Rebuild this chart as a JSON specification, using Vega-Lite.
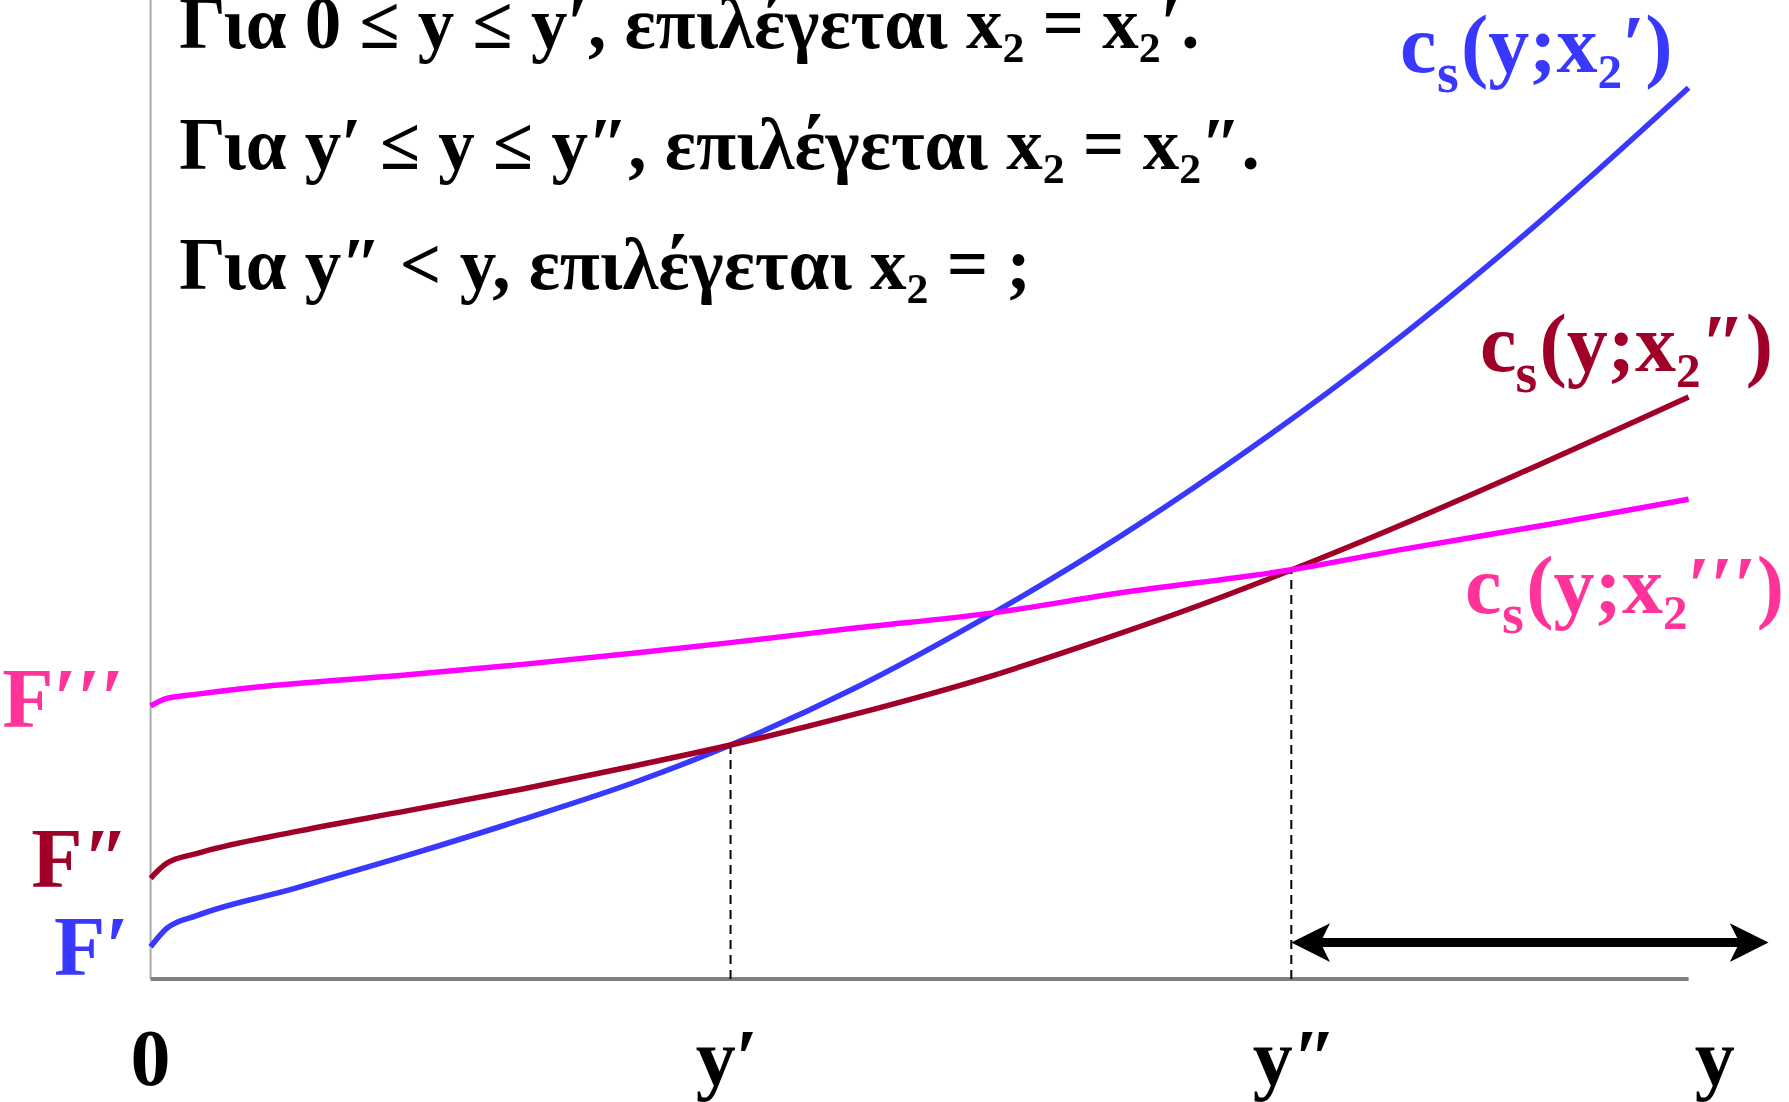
{
  "$schema": "https://vega.github.io/schema/vega-lite/v6.json",
  "width": 1789,
  "height": 1102,
  "autosize": {"type": "none"},
  "padding": 0,
  "background": "white",
  "config": {"view": {"stroke": null}},
  "datasets": {
    "curves": [
      {"series": "x2p", "y": 0, "c": 0.33},
      {"series": "x2p", "y": 0.105, "c": 0.518},
      {"series": "x2p", "y": 0.304, "c": 0.65},
      {"series": "x2p", "y": 0.926, "c": 0.92},
      {"series": "x2p", "y": 1.674, "c": 1.265},
      {"series": "x2p", "y": 2.419, "c": 1.63},
      {"series": "x2p", "y": 3.166, "c": 2.02},
      {"series": "x2p", "y": 3.771, "c": 2.39},
      {"series": "x2p", "y": 4.567, "c": 2.963},
      {"series": "x2p", "y": 5.476, "c": 3.736},
      {"series": "x2p", "y": 6.309, "c": 4.527},
      {"series": "x2p", "y": 7.0, "c": 5.253},
      {"series": "x2p", "y": 8.0, "c": 6.403},
      {"series": "x2p", "y": 9.0, "c": 7.693},
      {"series": "x2p", "y": 10.0, "c": 9.103},
      {"series": "x2pp", "y": 0, "c": 1.029},
      {"series": "x2pp", "y": 0.105, "c": 1.182},
      {"series": "x2pp", "y": 0.304, "c": 1.284},
      {"series": "x2pp", "y": 0.926, "c": 1.50},
      {"series": "x2pp", "y": 1.674, "c": 1.72},
      {"series": "x2pp", "y": 2.419, "c": 1.941},
      {"series": "x2pp", "y": 3.166, "c": 2.184},
      {"series": "x2pp", "y": 3.771, "c": 2.39},
      {"series": "x2pp", "y": 4.567, "c": 2.70},
      {"series": "x2pp", "y": 5.476, "c": 3.10},
      {"series": "x2pp", "y": 6.06, "c": 3.40},
      {"series": "x2pp", "y": 6.807, "c": 3.81},
      {"series": "x2pp", "y": 7.417, "c": 4.178},
      {"series": "x2pp", "y": 8.0, "c": 4.551},
      {"series": "x2pp", "y": 8.882, "c": 5.151},
      {"series": "x2pp", "y": 10.0, "c": 5.945},
      {"series": "x2ppp", "y": 0, "c": 2.789},
      {"series": "x2ppp", "y": 0.105, "c": 2.867},
      {"series": "x2ppp", "y": 0.304, "c": 2.91},
      {"series": "x2ppp", "y": 0.677, "c": 2.98},
      {"series": "x2ppp", "y": 1.674, "c": 3.107},
      {"series": "x2ppp", "y": 2.419, "c": 3.214},
      {"series": "x2ppp", "y": 3.166, "c": 3.332},
      {"series": "x2ppp", "y": 3.771, "c": 3.436},
      {"series": "x2ppp", "y": 4.567, "c": 3.582},
      {"series": "x2ppp", "y": 5.476, "c": 3.74},
      {"series": "x2ppp", "y": 6.309, "c": 3.945},
      {"series": "x2ppp", "y": 7.417, "c": 4.18},
      {"series": "x2ppp", "y": 8.167, "c": 4.396},
      {"series": "x2ppp", "y": 9.099, "c": 4.646},
      {"series": "x2ppp", "y": 10.0, "c": 4.9}
    ],
    "dashes": [
      {"y": 3.771, "c0": 0, "c1": 2.39},
      {"y": 7.417, "c0": 0, "c1": 4.178}
    ],
    "yaxis": [{"y": 0, "c0": 0, "c1": 10.0}],
    "xaxis": [{"y0": 0, "y1": 10.0, "c": 0}],
    "arrowline": [{"y0": 7.5, "y1": 10.44, "c": 0.373}],
    "arrowheads": [
      {"dir": "L", "y": 7.417, "c": 0.373},
      {"dir": "R", "y": 10.52, "c": 0.373}
    ],
    "notes": [
      {"text": "Για 0 ≤ y ≤ y′, επιλέγεται x₂ = x₂′.", "y": 0.186, "c": 9.51},
      {"text": "Για y′ ≤ y ≤ y″, επιλέγεται x₂ = x₂″.", "y": 0.186, "c": 8.27},
      {"text": "Για y″ < y, επιλέγεται x₂ = ;", "y": 0.186, "c": 7.05}
    ],
    "labelparts": [
      {"text": "c", "part": "main", "col": "x2p", "y": 8.123, "c": 9.26},
      {"text": "s", "part": "sub", "col": "x2p", "y": 8.364, "c": 9.06},
      {"text": "(y;x₂′)", "part": "main", "col": "x2p", "y": 8.52, "c": 9.26},
      {"text": "c", "part": "main", "col": "x2pp", "y": 8.644, "c": 6.21},
      {"text": "s", "part": "sub", "col": "x2pp", "y": 8.875, "c": 6.0},
      {"text": "(y;x₂″)", "part": "main", "col": "x2pp", "y": 9.03, "c": 6.21},
      {"text": "c", "part": "main", "col": "lpink", "y": 8.546, "c": 3.74},
      {"text": "s", "part": "sub", "col": "lpink", "y": 8.787, "c": 3.53},
      {"text": "(y;x₂′′′)", "part": "main", "col": "lpink", "y": 8.945, "c": 3.74}
    ],
    "flabels": [
      {"text": "F′", "col": "x2p", "y": -0.14, "c": 0.04},
      {"text": "F″", "col": "x2pp", "y": -0.14, "c": 0.94},
      {"text": "F′′′", "col": "lpink", "y": -0.17, "c": 2.57}
    ],
    "ticks": [
      {"text": "0", "y": 0, "c": -1.083},
      {"text": "y′", "y": 3.748, "c": -1.083},
      {"text": "y″", "y": 7.44, "c": -1.083},
      {"text": "y", "y": 10.17, "c": -1.083}
    ]
  },
  "layer": [
    {
      "data": {"name": "yaxis"},
      "mark": {"type": "rule", "color": "#aaaaaa", "strokeWidth": 2},
      "encoding": {
        "x": {"field": "y", "type": "quantitative", "scale": {"domain": [-0.979, 10.653], "nice": false, "zero": false}, "axis": null},
        "y": {"field": "c0", "type": "quantitative", "scale": {"domain": [-1.256, 10.0], "nice": false, "zero": false}, "axis": null},
        "y2": {"field": "c1"}
      }
    },
    {
      "data": {"name": "xaxis"},
      "mark": {"type": "rule", "color": "#808080", "strokeWidth": 4},
      "encoding": {
        "x": {"field": "y0", "type": "quantitative"},
        "x2": {"field": "y1"},
        "y": {"field": "c", "type": "quantitative"}
      }
    },
    {
      "data": {"name": "dashes"},
      "mark": {"type": "rule", "color": "#000000", "strokeWidth": 2, "strokeDash": [9, 6]},
      "encoding": {
        "x": {"field": "y", "type": "quantitative"},
        "y": {"field": "c0", "type": "quantitative"},
        "y2": {"field": "c1"}
      }
    },
    {
      "data": {"name": "curves"},
      "mark": {"type": "line", "strokeWidth": 5.5, "interpolate": "monotone"},
      "encoding": {
        "x": {"field": "y", "type": "quantitative"},
        "y": {"field": "c", "type": "quantitative"},
        "color": {"field": "series", "type": "nominal", "scale": {"domain": ["x2p", "x2pp", "x2ppp", "lpink"], "range": ["#3838ff", "#a00028", "#ff00ff", "#ff3399"]}, "legend": null},
        "order": {"field": "y", "type": "quantitative"}
      }
    },
    {
      "data": {"name": "arrowline"},
      "mark": {"type": "rule", "color": "#000000", "strokeWidth": 9},
      "encoding": {
        "x": {"field": "y0", "type": "quantitative"},
        "x2": {"field": "y1"},
        "y": {"field": "c", "type": "quantitative"}
      }
    },
    {
      "data": {"name": "arrowheads"},
      "mark": {"type": "point", "filled": true, "color": "#000000", "opacity": 1, "size": 1500, "strokeWidth": 0},
      "encoding": {
        "x": {"field": "y", "type": "quantitative"},
        "y": {"field": "c", "type": "quantitative"},
        "shape": {"field": "dir", "type": "nominal", "scale": {"domain": ["L", "R"], "range": ["M 0 0 L 2 -1 L 1.5 0 L 2 1 Z", "M 0 0 L -2 -1 L -1.5 0 L -2 1 Z"]}, "legend": null}
      }
    },
    {
      "data": {"name": "notes"},
      "mark": {"type": "text", "align": "left", "baseline": "alphabetic", "font": "Liberation Serif", "fontWeight": "bold", "fontSize": 73, "color": "#000000"},
      "encoding": {
        "x": {"field": "y", "type": "quantitative"},
        "y": {"field": "c", "type": "quantitative"},
        "text": {"field": "text"}
      }
    },
    {
      "data": {"name": "labelparts"},
      "transform": [{"filter": "datum.part == 'main'"}],
      "mark": {"type": "text", "align": "left", "baseline": "alphabetic", "font": "Liberation Serif", "fontWeight": "bold", "fontSize": 82},
      "encoding": {
        "x": {"field": "y", "type": "quantitative"},
        "y": {"field": "c", "type": "quantitative"},
        "text": {"field": "text"},
        "color": {"field": "col", "type": "nominal", "legend": null}
      }
    },
    {
      "data": {"name": "labelparts"},
      "transform": [{"filter": "datum.part == 'sub'"}],
      "mark": {"type": "text", "align": "left", "baseline": "alphabetic", "font": "Liberation Serif", "fontWeight": "bold", "fontSize": 56},
      "encoding": {
        "x": {"field": "y", "type": "quantitative"},
        "y": {"field": "c", "type": "quantitative"},
        "text": {"field": "text"},
        "color": {"field": "col", "type": "nominal", "legend": null}
      }
    },
    {
      "data": {"name": "flabels"},
      "mark": {"type": "text", "align": "right", "baseline": "alphabetic", "font": "Liberation Serif", "fontWeight": "bold", "fontSize": 84},
      "encoding": {
        "x": {"field": "y", "type": "quantitative"},
        "y": {"field": "c", "type": "quantitative"},
        "text": {"field": "text"},
        "color": {"field": "col", "type": "nominal", "legend": null}
      }
    },
    {
      "data": {"name": "ticks"},
      "mark": {"type": "text", "align": "center", "baseline": "alphabetic", "font": "Liberation Serif", "fontWeight": "bold", "fontSize": 80, "color": "#000000"},
      "encoding": {
        "x": {"field": "y", "type": "quantitative"},
        "y": {"field": "c", "type": "quantitative"},
        "text": {"field": "text"}
      }
    }
  ]
}
